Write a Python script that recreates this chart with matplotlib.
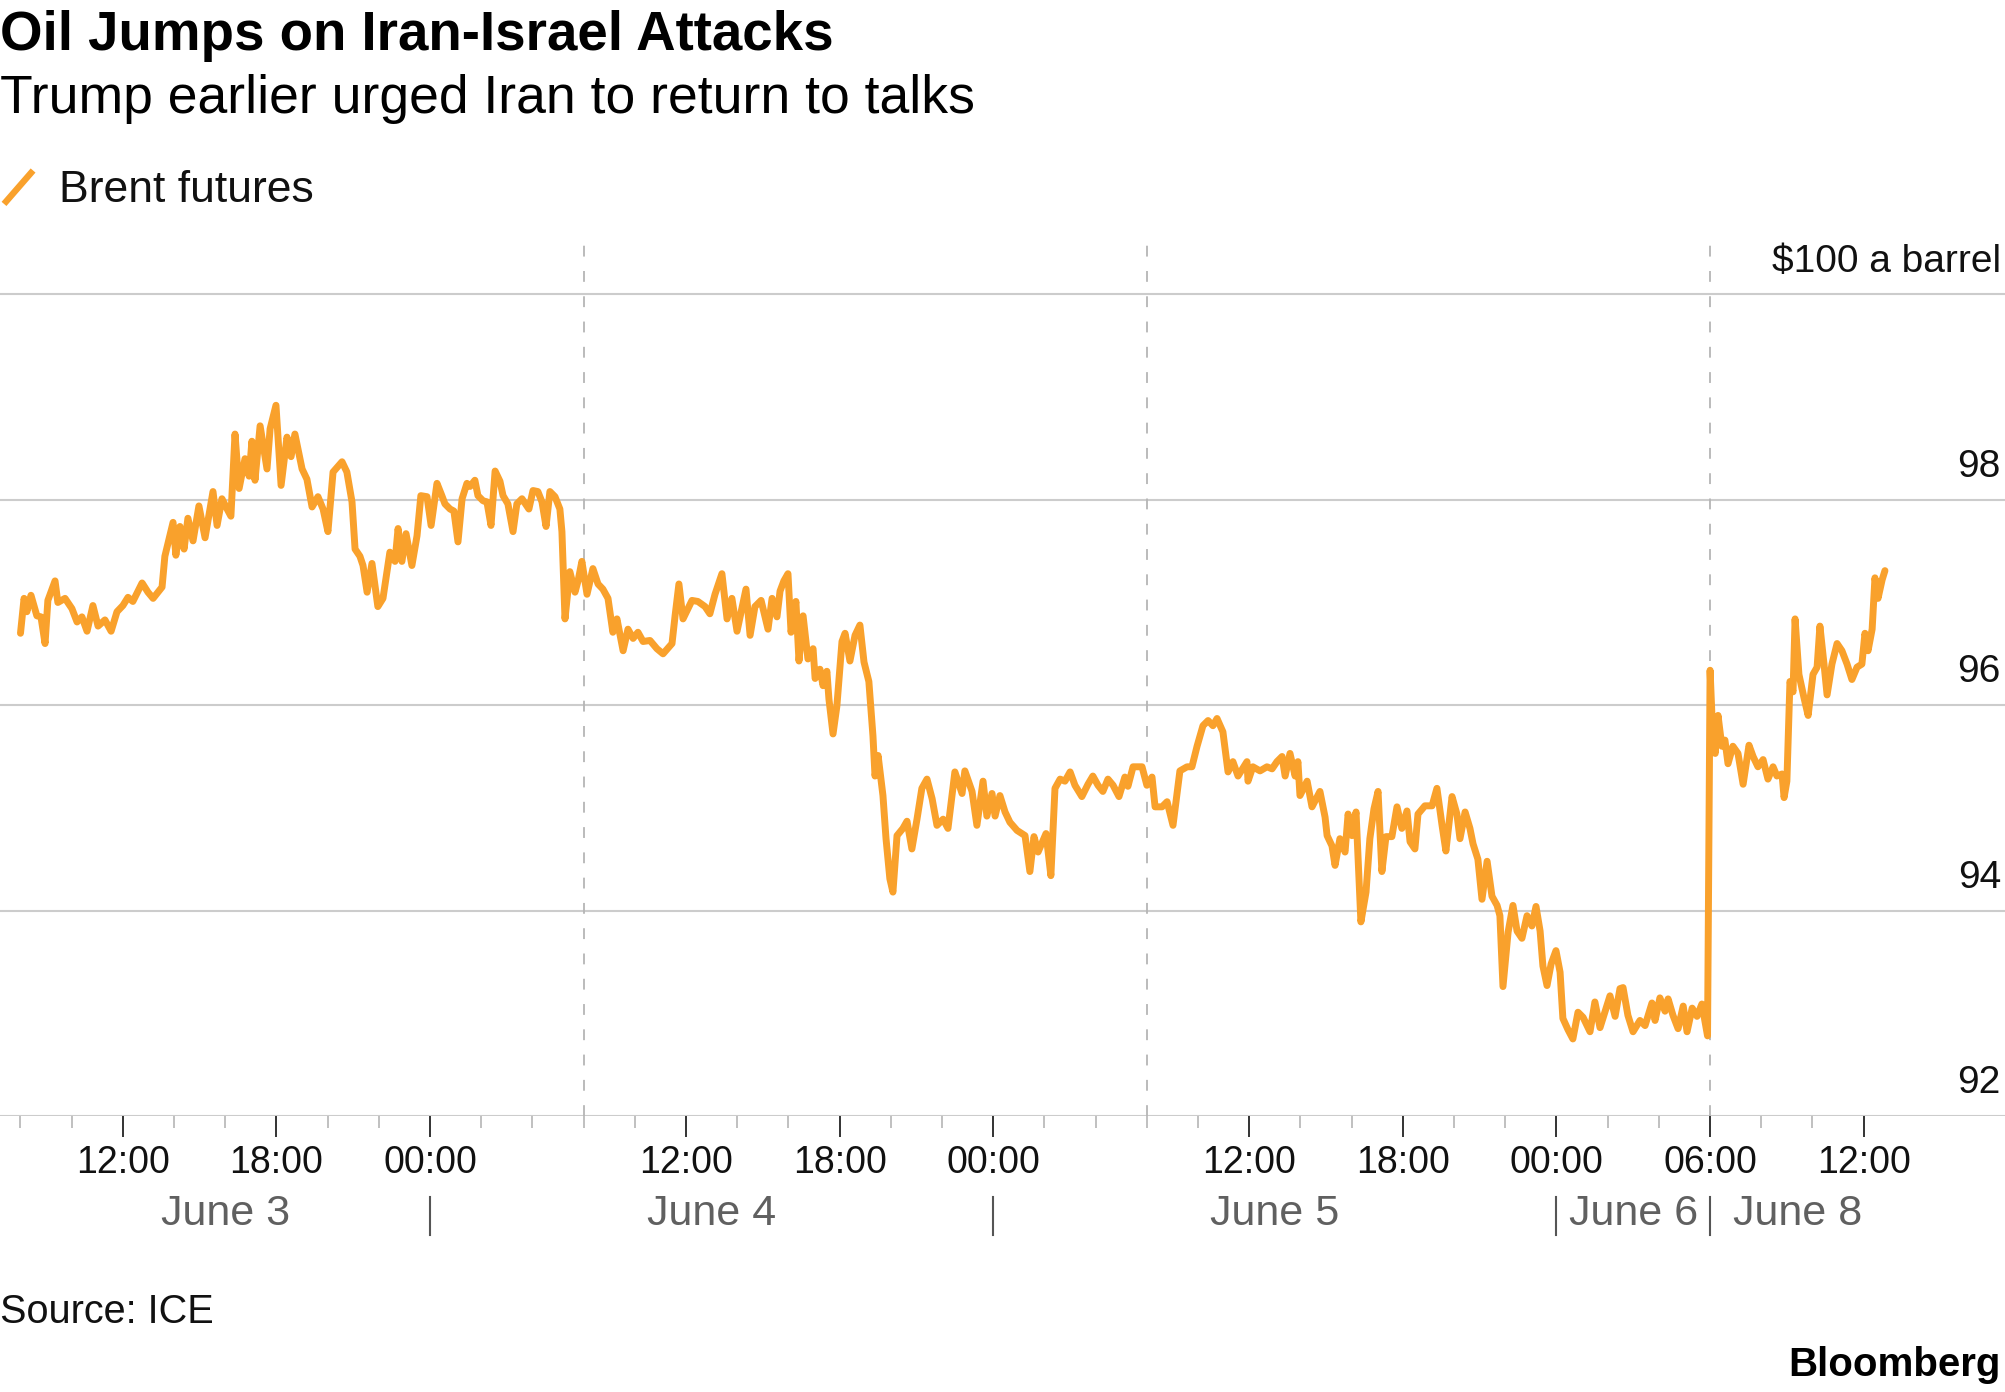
import matplotlib
matplotlib.use("Agg")
import matplotlib.pyplot as plt
from matplotlib.lines import Line2D

plt.rcParams["font.family"] = ["Liberation Sans", "DejaVu Sans"]

# trading hours since the June 3 session open (08:00), sessions glued together
hours = [
    0.00, 0.14, 0.25, 0.41, 0.64, 0.80, 0.96, 1.07, 1.35, 1.46, 1.74, 2.01, 2.21, 2.40, 2.60,
    2.83, 3.03, 3.30, 3.54, 3.77, 4.00, 4.20, 4.39, 4.75, 4.98, 5.18, 5.53, 5.64, 5.96, 6.07,
    6.23, 6.39, 6.54, 6.74, 6.97, 7.21, 7.52, 7.68, 7.87, 8.07, 8.22, 8.38, 8.54, 8.77, 8.93,
    9.04, 9.16, 9.36, 9.63, 9.75, 9.98, 10.18, 10.41, 10.57, 10.72, 11.00, 11.19, 11.39, 11.62,
    11.82, 12.01, 12.21, 12.56, 12.75, 12.95, 13.07, 13.26, 13.38, 13.54, 13.73, 13.96, 14.16,
    14.43, 14.63, 14.75, 14.90, 15.06, 15.29, 15.49, 15.64, 15.88, 16.04, 16.27, 16.46, 16.58,
    16.78, 16.93, 17.09, 17.25, 17.44, 17.56, 17.75, 17.87, 18.07, 18.22, 18.38, 18.54, 18.73,
    18.85, 19.04, 19.24, 19.39, 19.59, 19.86, 20.02, 20.21, 20.37, 20.53, 20.68, 20.88, 21.07,
    21.15, 21.27, 21.46, 21.66, 21.78, 21.93, 22.13, 22.36, 22.56, 22.75, 22.95, 23.14, 23.30,
    23.54, 23.73, 23.93, 24.12, 24.32, 24.59, 24.86, 25.10, 25.45, 25.57, 25.72, 25.88, 26.23,
    26.46, 26.74, 26.93, 27.13, 27.40, 27.60, 27.79, 27.99, 28.18, 28.34, 28.50, 28.69, 28.93,
    29.20, 29.36, 29.55, 29.67, 29.82, 29.98, 30.10, 30.29, 30.41, 30.57, 30.76, 30.96, 31.04,
    31.23, 31.35, 31.50, 31.58, 31.74, 31.89, 32.09, 32.21, 32.40, 32.60, 32.79, 32.95, 33.14,
    33.30, 33.38, 33.50, 33.69, 33.81, 33.96, 34.08, 34.24, 34.47, 34.63, 34.82, 35.02, 35.21,
    35.41, 35.61, 35.80, 36.04, 36.23, 36.50, 36.78, 36.89, 37.17, 37.36, 37.60, 37.75, 37.95,
    38.07, 38.26, 38.46, 38.65, 38.93, 39.24, 39.43, 39.59, 39.75, 40.06, 40.25, 40.41, 40.61,
    40.80, 41.00, 41.19, 41.46, 41.70, 41.89, 42.09, 42.28, 42.48, 42.68, 42.91, 43.14, 43.26,
    43.46, 43.81, 44.00, 44.20, 44.32, 44.59, 44.79, 45.02, 45.29, 45.57, 45.76, 45.96, 46.19,
    46.39, 46.58, 46.74, 46.97, 47.17, 47.36, 47.56, 47.91, 47.95, 48.14, 48.42, 48.69, 48.89,
    49.08, 49.28, 49.40, 49.59, 49.79, 49.90, 49.98, 50.26, 50.45, 50.76, 50.96, 51.04, 51.23,
    51.35, 51.54, 51.74, 51.86, 52.01, 52.17, 52.36, 52.56, 52.71, 52.87, 53.03, 53.18, 53.34,
    53.57, 53.77, 53.96, 54.16, 54.28, 54.47, 54.59, 54.86, 55.14, 55.33, 55.53, 55.68, 55.92,
    56.11, 56.23, 56.43, 56.62, 56.74, 56.93, 57.09, 57.29, 57.48, 57.68, 57.79, 57.91, 58.11,
    58.30, 58.46, 58.65, 58.85, 59.04, 59.20, 59.36, 59.47, 59.63, 59.79, 59.98, 60.14, 60.25,
    60.45, 60.64, 60.84, 61.04, 61.31, 61.50, 61.70, 61.89, 62.09, 62.29, 62.48, 62.60, 62.79,
    62.99, 63.26, 63.46, 63.73, 63.85, 64.04, 64.24, 64.36, 64.55, 64.75, 64.95, 65.10, 65.30,
    65.49, 65.68, 65.90, 66.00, 66.10, 66.20, 66.31, 66.46, 66.58, 66.70, 66.89, 67.09, 67.29,
    67.52, 67.68, 67.87, 68.07, 68.26, 68.46, 68.61, 68.81, 68.89, 69.00, 69.12, 69.24, 69.32,
    69.47, 69.67, 69.83, 70.02, 70.18, 70.29, 70.45, 70.57, 70.76, 70.96, 71.15, 71.35, 71.54,
    71.74, 71.93, 72.05, 72.17, 72.33, 72.44, 72.56, 72.72, 72.83,
]

brent = [
    96.70, 97.04, 96.91, 97.07, 96.87, 96.86, 96.60, 97.02, 97.21, 97.00, 97.04, 96.94, 96.81, 96.86, 96.72,
    96.97, 96.77, 96.83, 96.72, 96.91, 96.97, 97.05, 97.01, 97.19, 97.10, 97.04, 97.15, 97.45, 97.78, 97.46,
    97.74, 97.52, 97.82, 97.60, 97.94, 97.63, 98.08, 97.75, 98.01, 97.91, 97.84, 98.64, 98.11, 98.40, 98.23,
    98.57, 98.19, 98.72, 98.30, 98.69, 98.92, 98.14, 98.61, 98.42, 98.64, 98.30, 98.20, 97.93, 98.03,
    97.91, 97.69, 98.27, 98.37, 98.27, 97.98, 97.52, 97.45, 97.36, 97.10, 97.38, 96.96, 97.04,
    97.49, 97.40, 97.72, 97.40, 97.67, 97.36, 97.65, 98.04, 98.03, 97.75, 98.16, 98.04, 97.96,
    97.91, 97.89, 97.59, 98.01, 98.16, 98.13, 98.19, 98.04, 97.99, 97.98, 97.75, 98.28, 98.18,
    98.04, 97.96, 97.69, 97.96, 98.01, 97.91, 98.09, 98.08, 97.98, 97.74, 98.08, 98.03, 97.91,
    97.69, 96.84, 97.30, 97.10, 97.21, 97.40, 97.08, 97.33, 97.18, 97.13, 97.04, 96.71, 96.84,
    96.53, 96.74, 96.65, 96.71, 96.62, 96.63, 96.55, 96.50, 96.60, 96.87, 97.18, 96.84, 97.02,
    97.01, 96.96, 96.89, 97.08, 97.28, 96.84, 97.04, 96.72, 96.94, 97.13, 96.68, 96.96, 97.02,
    96.74, 97.04, 96.86, 97.11, 97.21, 97.28, 96.71, 97.01, 96.43, 96.87, 96.45, 96.55, 96.26,
    96.35, 96.19, 96.33, 96.06, 95.72, 95.99, 96.62, 96.70, 96.43, 96.68, 96.78, 96.42, 96.23,
    95.70, 95.31, 95.51, 95.12, 94.70, 94.31, 94.18, 94.73, 94.80, 94.87, 94.60, 94.89, 95.19,
    95.28, 95.09, 94.83, 94.89, 94.80, 95.35, 95.14, 95.36, 95.16, 94.83, 95.26, 94.92, 95.14,
    94.92, 95.12, 94.96, 94.86, 94.78, 94.73, 94.38, 94.72, 94.57, 94.75, 94.34, 95.19, 95.28,
    95.26, 95.35, 95.22, 95.11, 95.23, 95.31, 95.22, 95.16, 95.28, 95.22, 95.11, 95.30, 95.21,
    95.40, 95.40, 95.22, 95.30, 95.01, 95.01, 95.06, 94.83, 95.36, 95.40, 95.40, 95.60, 95.80,
    95.85, 95.80, 95.87, 95.74, 95.35, 95.45, 95.31, 95.45, 95.26, 95.40, 95.36, 95.40, 95.38,
    95.45, 95.50, 95.31, 95.53, 95.31, 95.45, 95.12, 95.26, 95.01, 95.16, 94.91, 94.73, 94.63,
    94.44, 94.70, 94.57, 94.94, 94.73, 94.96, 93.89, 94.18, 94.70, 94.99, 95.16, 94.38, 94.72,
    94.72, 95.01, 94.80, 94.97, 94.67, 94.60, 94.94, 95.02, 95.02, 95.19, 94.83, 94.58, 95.11,
    94.94, 94.70, 94.96, 94.80, 94.65, 94.50, 94.11, 94.48, 94.14, 94.05, 93.95, 93.26, 93.79,
    94.05, 93.80, 93.73, 93.95, 93.85, 94.04, 93.80, 93.46, 93.27, 93.48, 93.61, 93.40, 92.95,
    92.84, 92.75, 93.01, 92.96, 92.82, 93.11, 92.86, 93.01, 93.17, 92.97, 93.24, 93.25, 92.98,
    92.82, 92.93, 92.88, 93.10, 92.93, 93.15, 93.02, 93.14, 92.98, 92.85, 93.07, 92.82, 93.05,
    92.97, 93.09, 92.78, 96.34, 95.73, 95.53, 95.90, 95.60, 95.66, 95.43, 95.60, 95.53, 95.23,
    95.61, 95.50, 95.40, 95.47, 95.28, 95.40, 95.31, 95.33, 95.10, 95.26, 96.23, 96.13, 96.84,
    96.30, 96.07, 95.90, 96.30, 96.37, 96.77, 96.40, 96.10, 96.40, 96.60, 96.53, 96.40, 96.25,
    96.37, 96.40, 96.70, 96.53, 96.74, 97.24, 97.04, 97.22, 97.31,
]

session_breaks = [22, 44, 66]
major_ticks = [4, 10, 16, 26, 32, 38, 48, 54, 60, 66, 72]
major_labels = ["12:00", "18:00", "00:00", "12:00", "18:00", "00:00",
                "12:00", "18:00", "00:00", "06:00", "12:00"]
minor_ticks = list(range(0, 74, 2))
day_labels = ["June 3", "June 4", "June 5", "June 6", "June 8"]
day_centers = [8, 27, 49, 63, 69.4]
day_seps = [16, 38, 60, 66]
y_levels = [92, 94, 96, 98, 100]
y_labels = ["92", "94", "96", "98", "\\$100 a barrel"]

ORANGE = "#F9A12C"
GRID = "#cccccc"

fig = plt.figure(figsize=(20.05, 13.92), dpi=100)
ax = fig.add_axes([0, 0.1983, 1, 0.6308])
ax.set_xlim(-0.80, 77.52)
ax.set_ylim(92, 100.55)
for s in ax.spines.values():
    s.set_visible(False)

for v in y_levels:
    ax.axhline(v, color=GRID, lw=1.5, zorder=1)
for b in session_breaks:
    ax.axvline(b, color="#b5b5b5", lw=1.3, dashes=(6, 8), zorder=1)

ax.plot(hours, brent, color=ORANGE, lw=5.0, solid_joinstyle="round",
        solid_capstyle="round", zorder=3)

ax.set_yticks([])
ax.set_xticks(major_ticks)
ax.set_xticklabels(major_labels, fontsize=27, color="#111111")
ax.set_xticks(minor_ticks, minor=True)
ax.tick_params(axis="x", which="major", length=15, width=1.4, color="#333333", pad=6)
ax.tick_params(axis="x", which="minor", length=8.6, width=1.3, color="#bbbbbb")

# right-hand value labels sit just above each gridline
for v, lab in zip(y_levels, y_labels):
    ax.text(0.998, v + 0.32, lab, transform=ax.get_yaxis_transform(),
            ha="right", va="center", fontsize=28, color="#111111")

# calendar day row under the time labels
xt = ax.get_xaxis_transform()
for c, lab in zip(day_centers, day_labels):
    ax.text(c, -0.112, lab, transform=xt, ha="center", va="center",
            fontsize=31, color="#606060", clip_on=False)
for s in day_seps:
    ax.add_line(Line2D([s, s], [-0.0923, -0.1355], transform=xt, color="#555555",
                       lw=1.5, clip_on=False))

fig.text(0.0, 0.964, "Oil Jumps on Iran-Israel Attacks", fontsize=39.3,
         fontweight="bold", ha="left", va="baseline", color="#000000")
fig.text(0.0, 0.919, "Trump earlier urged Iran to return to talks", fontsize=38.5,
         ha="left", va="baseline", color="#000000")

fig.add_artist(Line2D([0.002, 0.0165], [0.8535, 0.8775], color=ORANGE, lw=4.6,
                      solid_capstyle="butt", transform=fig.transFigure))
fig.text(0.0294, 0.855, "Brent futures", fontsize=32, ha="left", va="baseline",
         color="#111111")

fig.text(0.0, 0.0496, "Source: ICE", fontsize=28.5, ha="left", va="baseline",
         color="#111111")
fig.text(0.998, 0.0115, "Bloomberg", fontsize=29, fontweight="bold", ha="right",
         va="baseline", color="#000000")

fig.savefig("out.png", dpi=100, facecolor="white")
